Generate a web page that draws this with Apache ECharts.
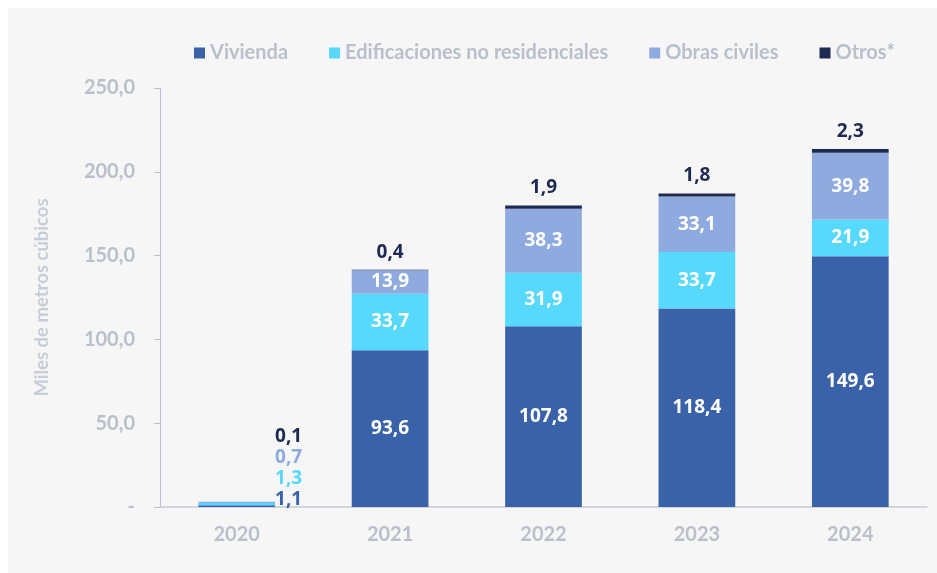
<!DOCTYPE html>
<html>
<head>
<meta charset="utf-8">
<script src="https://cdn.jsdelivr.net/npm/echarts@6/dist/echarts.min.js"></script>
<style>
    html, body { margin: 0; padding: 0; background: #ffffff; }
    #panel { position: absolute; left: 8px; top: 8px; width: 929px; height: 565px; background: #f6f6f6; }
    #main { position: absolute; left: 0; top: 0; width: 937px; height: 573px; }
</style>
</head>
<body>
<div id="panel"></div>
<div id="main"></div>
<script>
    // datos
    var years = ['2020', '2021', '2022', '2023', '2024'];
    var vivienda = [1.1, 93.6, 107.8, 118.4, 149.6];
    var edificaciones = [1.3, 33.7, 31.9, 33.7, 21.9];
    var obras = [0.7, 13.9, 38.3, 33.1, 39.8];
    var otros = [0.1, 0.4, 1.9, 1.8, 2.3];
    var seriesNames = ['Vivienda', 'Edificaciones no residenciales', 'Obras civiles', 'Otros*'];
    var colors = ['#3a62a8', '#57d8fd', '#8eaadf', '#1f2a52'];

    var fmt = function (v) { return v.toFixed(1).replace('.', ','); };
    var gray = '#b9c0cb';

    // 2020 labels sit to the right of the bar, stacked
    var smallOffsets = [-6, -25, -45, -65];

    function makeSeries(idx, values) {
        var inside = idx < 3;
        return {
            name: seriesNames[idx],
            type: 'bar',
            stack: 'total',
            barWidth: '50%',
            itemStyle: { color: colors[idx] },
            label: {
                show: true,
                position: inside ? 'inside' : 'top',
                distance: 8,
                color: inside ? '#ffffff' : colors[3],
                fontFamily: 'Open Sans',
                fontWeight: 'bold',
                fontSize: 19,
                formatter: function (p) { return fmt(p.value); }
            },
            data: values.map(function (v, i) {
                if (i === 0) {
                    return {
                        value: v,
                        label: {
                            position: 'right',
                            distance: 0,
                            offset: [0, smallOffsets[idx]],
                            color: colors[idx]
                        }
                    };
                }
                return v;
            })
        };
    }

    var chart = echarts.init(document.getElementById('main'));
    var option = {
        backgroundColor: 'transparent',
        legend: {
            top: 38,
            left: 189,
            itemWidth: 11,
            itemHeight: 11,
            itemGap: 41,
            icon: 'rect',
            textStyle: { color: gray, fontFamily: 'Lato', fontWeight: 'bold', fontSize: 20 },
            data: seriesNames
        },
        grid: { left: 160, right: 10, top: 88, bottom: 66 },
        xAxis: {
            type: 'category',
            data: years,
            axisLine: { lineStyle: { color: '#c5ccd6', width: 1.5 } },
            axisTick: { show: false },
            axisLabel: { color: gray, fontFamily: 'Lato', fontWeight: 'bold', fontSize: 20, margin: 18 }
        },
        yAxis: {
            type: 'value',
            min: 0,
            max: 250,
            interval: 50,
            name: 'Miles de metros cúbicos',
            nameLocation: 'middle',
            nameGap: 108,
            nameTextStyle: { color: '#c7cdd6', fontFamily: 'Lato', fontWeight: 'bold', fontSize: 18.5 },
            axisLine: { show: true, lineStyle: { color: '#b9c1cf' } },
            axisTick: { show: true, length: 6, lineStyle: { color: '#b9c1cf' } },
            splitLine: { show: false },
            axisLabel: {
                color: gray, fontFamily: 'Lato', fontWeight: 'bold', fontSize: 20, margin: 25,
                formatter: function (v) { return v === 0 ? '-' : fmt(v); }
            }
        },
        series: [
            makeSeries(0, vivienda),
            makeSeries(1, edificaciones),
            makeSeries(2, obras),
            makeSeries(3, otros)
        ]
    };
    chart.setOption(option);
</script>
</body>
</html>
